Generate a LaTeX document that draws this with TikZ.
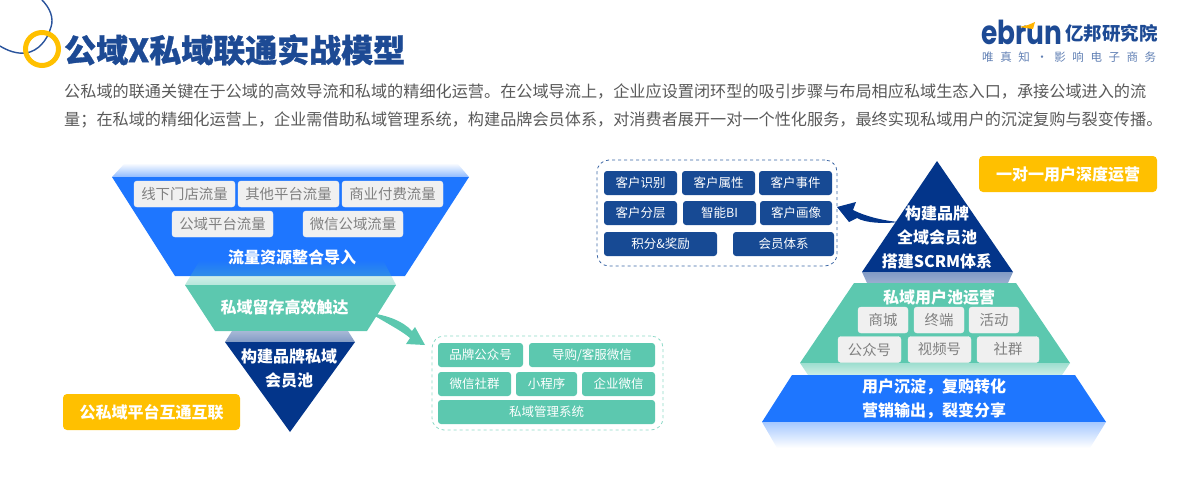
\documentclass[tikz,border=0pt]{standalone}
\usepackage{fontspec}
\setmainfont{Noto Sans CJK SC}
\newfontfamily\logofont{Poppins}
\newfontfamily\titlefont[BoldFeatures={FakeBold=1}]{Noto Sans CJK SC}
\newfontfamily\sloganfont[LetterSpace=57]{Noto Sans CJK SC}
\usetikzlibrary{fadings}
\definecolor{bluec}{HTML}{1E76FF}
\definecolor{tealc}{HTML}{5CC8AF}
\definecolor{navyc}{HTML}{03358A}
\definecolor{chipnavyc}{HTML}{174A94}
\definecolor{yellowc}{HTML}{FFC000}
\definecolor{titlec}{HTML}{1D4A94}
\tikzset{
    chipgray/.style={fill=black!6,draw=black!5,rounded corners=3pt,text=black!50,
        inner sep=0pt,minimum height=26pt,font=\fontsize{14.4}{16}\selectfont},
    chipteal/.style={fill=tealc,rounded corners=3pt,text=white,
        inner sep=0pt,minimum height=24pt,font=\fontsize{12.5}{15}\selectfont},
    chipnavy/.style={fill=chipnavyc,rounded corners=3pt,text=white,
        inner sep=0pt,minimum height=24pt,font=\fontsize{12.5}{15}\selectfont},
    lblwhite/.style={text=white,inner sep=0pt,align=center,
        font=\fontsize{16}{24}\selectfont\bfseries},
    tagbox/.style={fill=yellowc,rounded corners=4pt,text=white,inner sep=0pt,
        minimum height=36pt,font=\fontsize{16}{19}\selectfont\bfseries},
    parline/.style={anchor=west,inner sep=0pt,text=black!65,
        font=\fontsize{16.15}{19}\selectfont},
}
\begin{document}
\begin{tikzpicture}[x=1pt,y=-1pt]
    \useasboundingbox (0,0) rectangle (1200,480);

    % Cabecera.
    \draw[navyc!85,line width=1.4pt] (42,0) .. controls (50,8) and (54,18) .. (51,27)
        .. controls (47,41) and (38,51) .. (26,53) .. controls (17,54) and (8,51) .. (0,46);
    \draw[yellowc,line width=5pt] (42,49) circle (16.5);
    \node[anchor=west,inner sep=0pt,text=titlec,font=\titlefont\fontsize{32}{36}\selectfont\bfseries]
        (titulo) at (64,50) {公域X私域联通实战模型};
    \node[parline] (parA) at (64,92)
        {公私域的联通关键在于公域的高效导流和私域的精细化运营。在公域导流上，企业应设置闭环型的吸引步骤与布局相应私域生态入口，承接公域进入的流};
    \node[parline] (parB) at (64,120)
        {量；在私域的精细化运营上，企业需借助私域管理系统，构建品牌会员体系，对消费者展开一对一个性化服务，最终实现私域用户的沉淀复购与裂变传播。};

    % Logo.
    \node[anchor=west,inner sep=0pt,text=titlec,xscale=.8,
        font=\logofont\fontsize{33}{38}\selectfont\bfseries] (logo) at (981,32) {ebrun};
    \fill[yellowc!80!orange] (1019,27) -- (1028,25) -- (1035,22) -- (1033,29) -- cycle;
    \node[anchor=west,inner sep=0pt,text=titlec,font=\fontsize{18.5}{20}\selectfont\bfseries]
        (logocn) at (1065,33) {亿邦研究院};
    \node[anchor=west,inner sep=0pt,text=titlec!70,font=\sloganfont\fontsize{11.5}{13}\selectfont]
        (eslogan) at (982,57) {唯真知·影响电子商务};

    % Embudo izquierdo.
    \shade[top color=white,bottom color=bluec!50] (125,163) -- (457,163) -- (469,177) -- (112,177) -- cycle;
    \fill[bluec] (112,177) -- (469,177) -- (405,276) -- (175,276) -- cycle;
    \fill[tealc,opacity=.45,path fading=north] (200,260) -- (383,260) -- (396,285) -- (185,285) -- cycle;
    \fill[tealc] (185,285) -- (396,285) -- (367,331) -- (215,331) -- cycle;
    \shade[top color=navyc!35,bottom color=navyc!50] (232,331) -- (348,331) -- (355,342) -- (225,342) -- cycle;
    \fill[navyc] (225,342) -- (355,342) -- (290,432) -- cycle;

    \foreach \nm/\cx/\cy/\ww/\txt in {
        gA/184.5/194/101/线下门店流量, gB/288.5/194/101/其他平台流量, gC/392.5/194/101/商业付费流量,
        gD/222.5/224/101/公域平台流量, gE/353/224/100/微信公域流量}
        \node[chipgray,minimum width=\ww pt] (\nm) at (\cx,\cy) {\txt};
    \node[lblwhite] (embudoA) at (292,257) {流量资源整合导入};
    \node[lblwhite] (embudoB) at (284.5,307) {私域留存高效触达};
    \node[lblwhite] (embudoC) at (289,369) {构建品牌私域\\会员池};
    \node[tagbox,minimum width=177pt] (tagizq) at (151.5,412) {公私域平台互通互联};

    % Panel verde y su flecha.
    \node[draw=tealc!70,dashed,rounded corners=12pt,line width=.8pt,inner sep=0pt,
        minimum width=231pt,minimum height=94pt] (panelverde) at (547.5,383) {};
    \foreach \nm/\cx/\cy/\ww/\txt in {
        tA/480.5/355/85/品牌公众号, tB/592/355/126/{导购/客服微信},
        tC/474.5/384/73/微信社群, tD/546.5/384/61/小程序, tE/618.5/384/73/企业微信,
        tF/546.5/412/217/私域管理系统}
        \node[chipteal,minimum width=\ww pt] (\nm) at (\cx,\cy) {\txt};
    \coordinate (verdeA) at (370,313);
    \coordinate (verdeB) at (425,345);
    \fill[tealc] (verdeA) .. controls (385,315) and (402,320) .. (412,331) -- (415,327)
        -- (verdeB) -- (406,344) -- (410,338) .. controls (402,331) and (388,324) .. (verdeA);

    % Panel azul y su flecha.
    \node[draw=chipnavyc!85,dashed,rounded corners=12pt,line width=.8pt,inner sep=0pt,
        minimum width=240pt,minimum height=106pt] (panelazul) at (717,213) {};
    \foreach \nm/\cx/\cy/\ww/\txt in {
        nA/640.5/183/73/客户识别, nB/718.5/183/73/客户属性, nC/795.5/183/73/客户事件,
        nD/640.5/213/73/客户分层, nE/719.5/213/73/智能BI, nF/796/213/72/客户画像,
        nG/660.5/244/113/积分\&奖励, nH/783.5/244/101/会员体系}
        \node[chipnavy,minimum width=\ww pt] (\nm) at (\cx,\cy) {\txt};
    \coordinate (azulA) at (898,222);
    \coordinate (azulB) at (837,207);
    \fill[navyc] (azulA) .. controls (880,220) and (865,216) .. (853,210) -- (856,202)
        -- (azulB) -- (849,222) -- (857,218) .. controls (865,223) and (885,224) .. (azulA);

    % Pirámide derecha.
    \fill[navyc] (937,161) -- (1013,272) -- (862,272) -- cycle;
    \shade[top color=navyc!50,bottom color=navyc!40] (862,272) -- (1013,272) -- (1008,283) -- (867,283) -- cycle;
    \fill[tealc] (854,283) -- (1016,283) -- (1070,363) -- (800,363) -- cycle;
    \shade[top color=tealc!60,bottom color=tealc!30] (800,363) -- (1070,363) -- (1062,375) -- (808,375) -- cycle;
    \fill[bluec] (792,375) -- (1075,375) -- (1106,422) -- (762,422) -- cycle;
    \shade[top color=bluec!40,bottom color=white] (762,422) -- (1106,422) -- (1090,448) -- (777,448) -- cycle;

    \foreach \nm/\cx/\cy/\ww/\txt in {
        rA/883/320/50/商城, rB/939/320/50/终端, rC/994/320/50/活动,
        rD/869.5/349.5/63/公众号, rE/939.5/349.5/63/视频号, rF/1008/349.5/62/社群}
        \node[chipgray,minimum width=\ww pt] (\nm) at (\cx,\cy) {\txt};
    \node[lblwhite] (piramA) at (937,237.5) {构建品牌\\全域会员池\\搭建SCRM体系};
    \node[lblwhite] (piramB) at (939,297) {私域用户池运营};
    \node[lblwhite] (piramC) at (934,398.5) {用户沉淀，复购转化\\营销输出，裂变分享};
    \node[tagbox,minimum width=178pt] (tagder) at (1068,174) {一对一用户深度运营};
\end{tikzpicture}
\end{document}
